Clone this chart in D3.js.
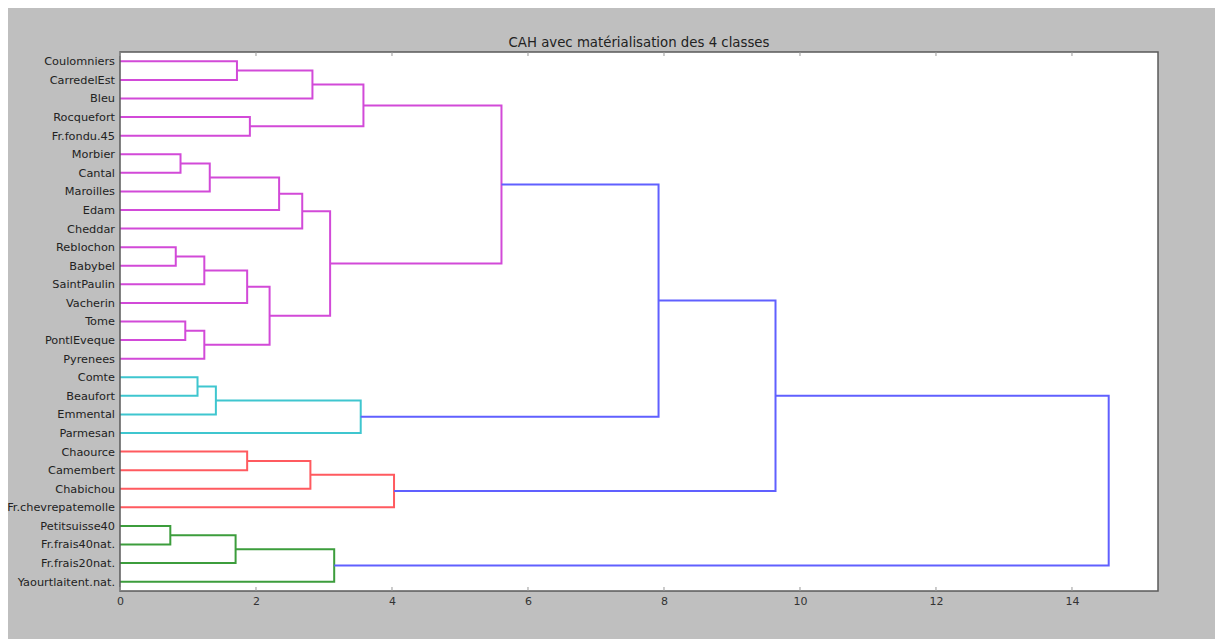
<!DOCTYPE html>
<html>
<head>
<meta charset="utf-8">
<script src="https://cdn.jsdelivr.net/npm/d3@7"></script>
<style>
  html, body { margin: 0; padding: 0; background: #ffffff; }
  svg { display: block; }
  text { font-family: "DejaVu Sans", sans-serif; }
</style>
</head>
<body>
<script>
// ---------- DATA ----------
const title = "CAH avec matérialisation des 4 classes";

const leaves = ["Coulomniers","CarredelEst","Bleu","Rocquefort","Fr.fondu.45",
  "Morbier","Cantal","Maroilles","Edam","Cheddar","Reblochon","Babybel",
  "SaintPaulin","Vacherin","Tome","PontlEveque","Pyrenees","Comte","Beaufort",
  "Emmental","Parmesan","Chaource","Camembert","Chabichou","Fr.chevrepatemolle",
  "Petitsuisse40","Fr.frais40nat.","Fr.frais20nat.","Yaourtlaitent.nat."];

// merges m0..m27 : left child, right child, height
const mergeLeft  = ["Coulomniers","m0","Rocquefort","m1","Morbier","m4","m5","m6",
  "Reblochon","m8","m9","Tome","m11","m10","m7","m3","Comte","m16","m17","m15",
  "Chaource","m20","m21","m19","Petitsuisse40","m24","m25","m23"];
const mergeRight = ["CarredelEst","Bleu","Fr.fondu.45","m2","Cantal","Maroilles","Edam","Cheddar",
  "Babybel","SaintPaulin","Vacherin","PontlEveque","Pyrenees","m12","m13","m14","Beaufort",
  "Emmental","Parmesan","m18","Camembert","Chabichou","Fr.chevrepatemolle","m22",
  "Fr.frais40nat.","Fr.frais20nat.","Yaourtlaitent.nat.","m26"];
const mergeHeight = [1.72,2.83,1.91,3.58,0.89,1.32,2.34,2.68,
  0.82,1.24,1.87,0.96,1.24,2.20,3.09,5.61,1.14,
  1.41,3.54,7.92,1.87,2.80,4.03,9.64,
  0.74,1.70,3.15,14.54];

// the four classes (root merge of each) and their colours
const classRoots  = ["m15","m18","m22","m26"];
const classColors = ["#d24ad8","#3fc6cf","#ff5a5f","#3c9d3c"];
const aboveColor  = "#6060ff";

const xTicks = [0,2,4,6,8,10,12,14];
const xMax = 15.265;

// ---------- LAYOUT ----------
const W = 1215, H = 639;
const plot = {left: 120, right: 1158, top: 52, bottom: 591};

const svg = d3.select("body").append("svg").attr("width", W).attr("height", H);
svg.append("rect").attr("x", 8).attr("y", 8).attr("width", W - 8).attr("height", H - 8).attr("fill", "#bfbfbf");
svg.append("rect").attr("x", plot.left).attr("y", plot.top)
  .attr("width", plot.right - plot.left).attr("height", plot.bottom - plot.top).attr("fill", "#ffffff");

const x = d3.scaleLinear().domain([0, xMax]).range([plot.left, plot.right]);
const y = d3.scaleLinear().domain([0, leaves.length]).range([plot.top, plot.bottom]);

// node positions
const pos = {};
leaves.forEach((n, i) => { pos[n] = {y: i + 0.5, h: 0}; });
const children = {};
mergeHeight.forEach((h, i) => {
  const id = "m" + i;
  const a = pos[mergeLeft[i]], b = pos[mergeRight[i]];
  pos[id] = {y: (a.y + b.y) / 2, h: h};
  children[id] = [mergeLeft[i], mergeRight[i]];
});

// colour per merge
const colorOf = {};
mergeHeight.forEach((h, i) => { colorOf["m" + i] = aboveColor; });
function paint(id, c) {
  if (!children[id]) return;
  colorOf[id] = c;
  children[id].forEach(ch => paint(ch, c));
}
classRoots.forEach((r, k) => paint(r, classColors[k]));

const links = mergeHeight.map((h, i) => ({
  id: "m" + i, a: pos[mergeLeft[i]], b: pos[mergeRight[i]], h: h
}));

const g = svg.append("g");
g.selectAll("path.link").data(links).enter().append("path")
  .attr("class", "link")
  .attr("fill", "none")
  .attr("stroke", d => colorOf[d.id])
  .attr("stroke-width", 2)
  .attr("stroke-linejoin", "miter")
  .attr("d", d => {
    const p = d3.path();
    p.moveTo(x(d.a.h), y(d.a.y));
    p.lineTo(x(d.h), y(d.a.y));
    p.lineTo(x(d.h), y(d.b.y));
    p.lineTo(x(d.b.h), y(d.b.y));
    return p.toString();
  });

// axes frame
svg.append("rect").attr("x", plot.left).attr("y", plot.top)
  .attr("width", plot.right - plot.left).attr("height", plot.bottom - plot.top)
  .attr("fill", "none").attr("stroke", "#5a5a5a").attr("stroke-width", 1.5);

// bottom axis
const xAxis = d3.axisBottom(x).tickValues(xTicks).tickSize(0).tickPadding(6).tickFormat(d3.format("d"));
const ax = svg.append("g").attr("transform", `translate(0,${plot.bottom})`).call(xAxis);
ax.select(".domain").remove();
ax.selectAll("text").attr("font-size", 11).attr("fill", "#333").attr("font-family", "DejaVu Sans");

// inward tick marks top and bottom
svg.append("g").selectAll("line.tb").data(xTicks).enter().append("line")
  .attr("x1", d => x(d)).attr("x2", d => x(d)).attr("y1", plot.bottom).attr("y2", plot.bottom - 4)
  .attr("stroke", "#999").attr("stroke-width", 1);
svg.append("g").selectAll("line.tt").data(xTicks).enter().append("line")
  .attr("x1", d => x(d)).attr("x2", d => x(d)).attr("y1", plot.top).attr("y2", plot.top + 4)
  .attr("stroke", "#999").attr("stroke-width", 1);

// leaf labels
svg.append("g").selectAll("text.leaf").data(leaves).enter().append("text")
  .attr("x", plot.left - 5)
  .attr("y", (d, i) => y(i + 0.5))
  .attr("dy", "0.35em")
  .attr("text-anchor", "end")
  .attr("font-size", 11.3)
  .attr("fill", "#222")
  .text(d => d);

// title
svg.append("text").attr("x", (plot.left + plot.right) / 2).attr("y", plot.top - 5)
  .attr("text-anchor", "middle").attr("font-size", 13.3).attr("fill", "#222").text(title);
</script>
</body>
</html>
